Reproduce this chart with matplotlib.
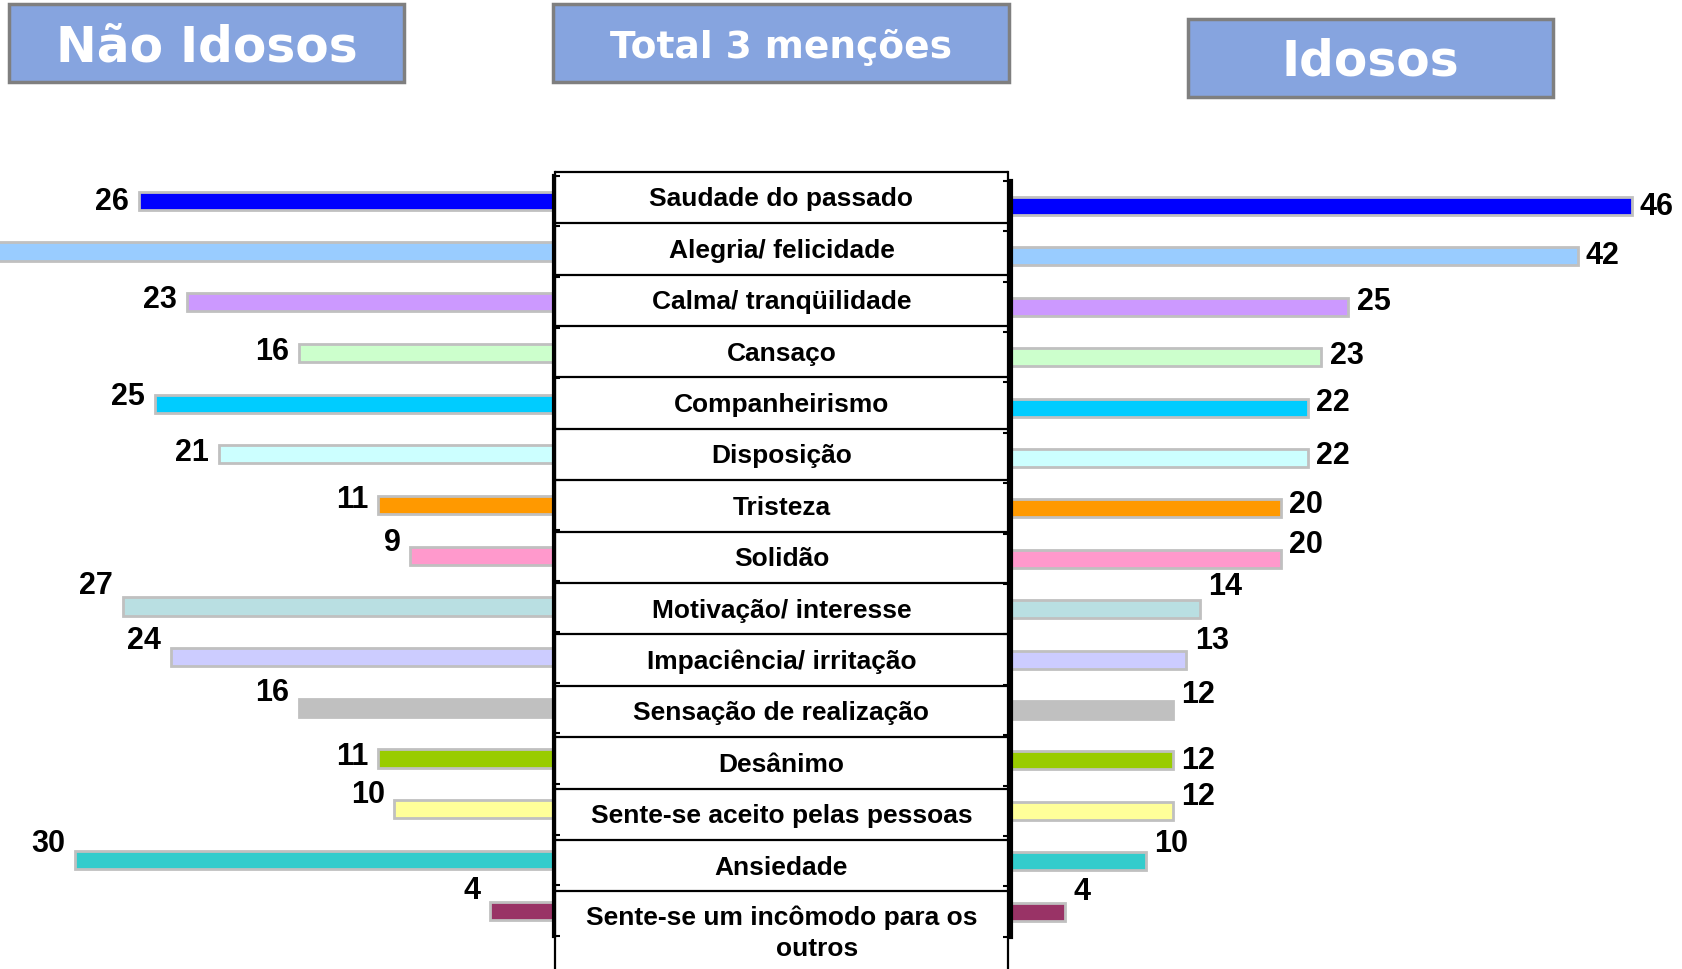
import matplotlib
matplotlib.use("Agg")
import matplotlib.pyplot as plt
from matplotlib.patches import Rectangle

# ---------------- data ----------------
categories = [
    "Saudade do passado", "Alegria/ felicidade", "Calma/ tranqüilidade", "Cansaço",
    "Companheirismo", "Disposição", "Tristeza", "Solidão", "Motivação/ interesse",
    "Impaciência/ irritação", "Sensação de realização", "Desânimo",
    "Sente-se aceito pelas pessoas", "Ansiedade", "Sente-se um incômodo para os\noutros",
]
nao_idosos = [26, 40, 23, 16, 25, 21, 11, 9, 27, 24, 16, 11, 10, 30, 4]
idosos = [46, 42, 25, 23, 22, 22, 20, 20, 14, 13, 12, 12, 12, 10, 4]
titles = ["Não Idosos", "Total 3 menções", "Idosos"]

colors = ["#0000FF", "#99CCFF", "#CC99FF", "#CCFFCC", "#00CCFF", "#CCFFFF",
          "#FF9900", "#FF99CC", "#B9DFE2", "#CCCCFF", "#C0C0C0", "#99CC00",
          "#FFFF99", "#33CCCC", "#993366"]

# label vertical nudges (pixels, negative = up)
left_dy = [0, 0, -3, -2, -7, -2, -6, -13, -20, -16, -15, -2, -14, -16, -19]
right_dy = [0, -1, -5, -2, -5, -3, -4, -14, -22, -18, -15, 0, -14, -17, -19]

W, H = 1683, 970
fig = plt.figure(figsize=(W / 100, H / 100), dpi=100)
fig.patch.set_facecolor("white")


def rect(x0, y0, x1, y1):
    return [x0 / W, 1 - y1 / H, (x1 - x0) / W, (y1 - y0) / H]


# overlay axes in pixel coordinates
ov = fig.add_axes([0, 0, 1, 1], zorder=0)
ov.set_xlim(0, W)
ov.set_ylim(H, 0)
ov.axis("off")

# title boxes
boxes = [(9, 5, 404, 83, 35), (553, 5, 1009, 83, 27), (1188, 20, 1553, 98, 35)]
for (x0, y0, x1, y1, fs), t in zip(boxes, titles):
    ov.add_patch(Rectangle((x0, y0), x1 - x0, y1 - y0, facecolor="#86A4DF",
                           edgecolor="#7F7F7F", linewidth=2.5))
    ov.text((x0 + x1) / 2, (y0 + y1) / 2 + 3, t, ha="center", va="center",
            color="white", fontsize=fs, fontweight="bold", family="DejaVu Sans")

# central table
tx0, tx1 = 555, 1008
ty0, step = 172.7, 51.4
n = len(categories)
for k in range(n):
    y = ty0 + k * step
    ov.plot([tx0, tx1], [y, y], color="black", lw=1.6, solid_capstyle="butt")
ov.plot([tx0, tx0], [ty0, H], color="black", lw=1.6)
ov.plot([tx1, tx1], [ty0, H], color="black", lw=1.6)
cx = (tx0 + tx1) / 2
for i, lab in enumerate(categories):
    yc = ty0 + step / 2 + i * step
    lines = lab.split("\n")
    if len(lines) == 1:
        ov.text(cx, yc + 1, lab, ha="center", va="center", fontsize=19,
                fontweight="bold", family="Liberation Sans")
    else:
        ov.text(cx, yc + 0, lines[0], ha="center", va="center", fontsize=19,
                fontweight="bold", family="Liberation Sans")
        ov.text(cx + 36, yc + 31, lines[1], ha="center", va="center", fontsize=19,
                fontweight="bold", family="Liberation Sans")

# ---------------- left bar chart ----------------
lscale = 15.96
lmax = 554 / lscale
axl = fig.add_axes(rect(0, 176.5, 554, 937), zorder=2)
axl.patch.set_alpha(0)
pos = list(range(n))
axl.barh(pos, nao_idosos, height=0.36, color=colors, edgecolor="#C0C0C0", linewidth=2)
axl.set_xlim(lmax, 0)
axl.set_ylim(n - 0.5, -0.5)
for s in ["left", "top", "bottom"]:
    axl.spines[s].set_visible(False)
axl.spines["right"].set_linewidth(3)
axl.yaxis.tick_right()
axl.set_yticks([k - 0.5 for k in range(n + 1)])
axl.set_yticklabels([])
axl.tick_params(axis="y", direction="out", length=4, width=1.5, right=True, left=False)
axl.set_xticks([])
for i, v in enumerate(nao_idosos):
    if v >= lmax:
        continue  # label lies beyond the chart's edge in the original
    axl.annotate(str(v), xy=(v, i), xytext=(-7, -left_dy[i] * 0.773),
                 textcoords="offset points", ha="right", va="center",
                 fontsize=22, fontweight="bold", family="Liberation Sans",
                 annotation_clip=False)

# ---------------- right bar chart ----------------
rscale = 13.49
axr = fig.add_axes(rect(1011, 181.8, W, 937.8), zorder=2)
axr.patch.set_alpha(0)
axr.barh(pos, idosos, height=0.36, color=colors, edgecolor="#C0C0C0", linewidth=2)
axr.set_xlim(0, (W - 1011) / rscale)
axr.set_ylim(n - 0.5, -0.5)
for s in ["right", "top", "bottom"]:
    axr.spines[s].set_visible(False)
axr.spines["left"].set_linewidth(3)
axr.set_yticks([k - 0.5 for k in range(n + 1)])
axr.set_yticklabels([])
axr.tick_params(axis="y", direction="out", length=6, width=1.5)
axr.set_xticks([])
for i, v in enumerate(idosos):
    axr.annotate(str(v), xy=(v, i), xytext=(6, -right_dy[i] * 0.773),
                 textcoords="offset points", ha="left", va="center",
                 fontsize=22, fontweight="bold", family="Liberation Sans",
                 annotation_clip=False)

fig.savefig("out.png", dpi=100, facecolor="white")
